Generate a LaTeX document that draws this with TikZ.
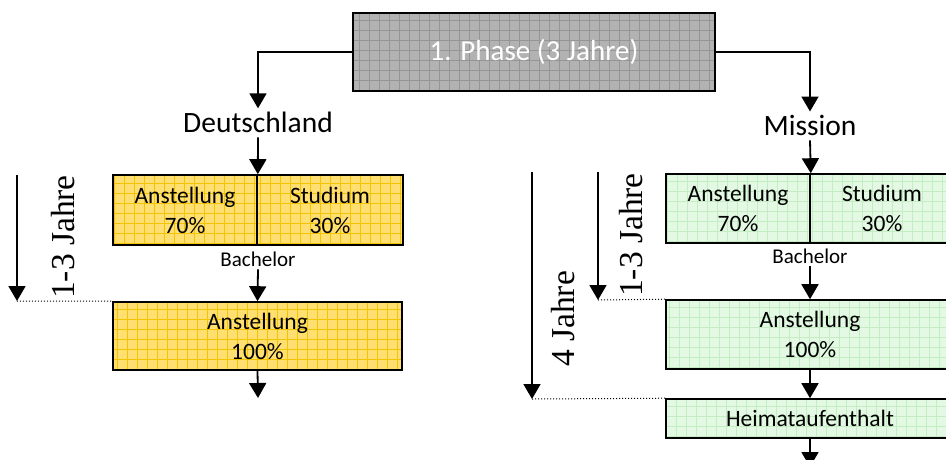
\documentclass[tikz,border=0pt]{standalone}
\usepackage{fontspec}
\setmainfont{Carlito}
\newfontfamily\serifl{Liberation Serif}
\usetikzlibrary{arrows.meta}
\definecolor{yfill}{HTML}{FFDF72}
\definecolor{ygrid}{HTML}{F3C400}
\definecolor{gfill}{HTML}{E3F9E3}
\definecolor{ggrid}{HTML}{C4EDC4}
\definecolor{pfill}{HTML}{B2B2B2}
\definecolor{pgrid}{HTML}{959595}
\begin{document}
\begin{tikzpicture}[x=1pt,y=-1pt,
  box/.style={draw=black, line width=1.6pt, inner sep=0pt, align=center,
    font=\fontsize{23.5}{30}\selectfont},
  gridfill/.style={path picture={\draw[#1, line width=0.6pt, step=10pt]
    (path picture bounding box.south west) grid (path picture bounding box.north east);}},
  ybox/.style={box, fill=yfill, gridfill=ygrid},
  gbox/.style={box, fill=gfill, gridfill=ggrid},
  pbox/.style={box, fill=pfill, gridfill=pgrid, text=white, font=\fontsize{29}{34}\selectfont},
  head/.style={font=\fontsize{29.5}{34}\selectfont, inner sep=0pt},
  small/.style={font=\fontsize{21}{24}\selectfont, inner sep=0pt},
  dur/.style={font=\serifl\fontsize{33.5}{36}\selectfont, rotate=90, inner sep=0pt},
  arr/.style={-{Triangle[width=17pt,length=15pt]}, line width=1.8pt},
  dots/.style={dotted, line width=1pt}]
\clip (0,0) rectangle (946,459);
\useasboundingbox (0,0) rectangle (946,459);

% top
\node[pbox, minimum width=362pt, minimum height=78pt] (top) at (534,52) {1. Phase (3 Jahre)};
\node[head, anchor=base] (dl) at (258,132) {Deutschland};
\node[head, anchor=base] (mi) at (810,135) {Mission};
\draw[arr] (top.west) -| ([yshift=3pt]dl.north);
\draw[arr] (top.east) -| ([yshift=3pt]mi.north);

% left column
\node[ybox, minimum width=144pt, minimum height=70pt] (yl1) at (185,210) {Anstellung\\70\%};
\node[ybox, minimum width=146pt, minimum height=70pt] (yl2) at (330,210) {Studium\\30\%};
\node[small, anchor=base] (bl) at (258,266) {Bachelor};
\node[ybox, minimum width=289pt, minimum height=68pt] (yl3) at (257.5,336) {Anstellung\\100\%};
\coordinate (yend) at (258,398);
\draw[arr] ([yshift=-5pt]dl.south) -- (yl1.north east);
\draw[arr] ([yshift=-3pt]bl.south) -- (yl3.north);
\draw[arr] (yl3.south) -- (yend);

\coordinate (ta) at (17,175);
\coordinate (tb) at (17,301);
\draw[arr] (ta) -- (tb);
\draw[dots] (tb) -- (yl3.north west);
\node[dur] (d1) at (63,237) {1-3 Jahre};

% right column
\node[gbox, minimum width=144pt, minimum height=69pt] (g1) at (738,208.5) {Anstellung\\70\%};
\node[gbox, minimum width=144pt, minimum height=69pt] (g2) at (882,208.5) {Studium\\30\%};
\node[small, anchor=base] (br) at (810,263) {Bachelor};
\node[gbox, minimum width=288pt, minimum height=69pt] (g3) at (810,334.5) {Anstellung\\100\%};
\node[gbox, minimum width=288pt, minimum height=39pt] (g4) at (810,418.5) {Heimataufenthalt};
\coordinate (gend) at (810,467);
\draw[arr] ([yshift=-5pt]mi.south) -- (g1.north east);
\draw[arr] ([yshift=-3pt]br.south) -- (g3.north);
\draw[arr] (g3.south) -- (g4.north);
\draw[arr] (g4.south) -- (gend);

\coordinate (ra) at (598,172);
\coordinate (rb) at (598,300);
\draw[arr] (ra) -- (rb);
\draw[dots] (rb) -- (g3.north west);
\node[dur] (d2) at (631,235) {1-3 Jahre};

\coordinate (sa) at (532,172);
\coordinate (sb) at (532,399);
\draw[arr] (sa) -- (sb);
\draw[dots] (sb) -- (g4.north west);
\node[dur] (d3) at (563,319) {4 Jahre};
\end{tikzpicture}
\end{document}
